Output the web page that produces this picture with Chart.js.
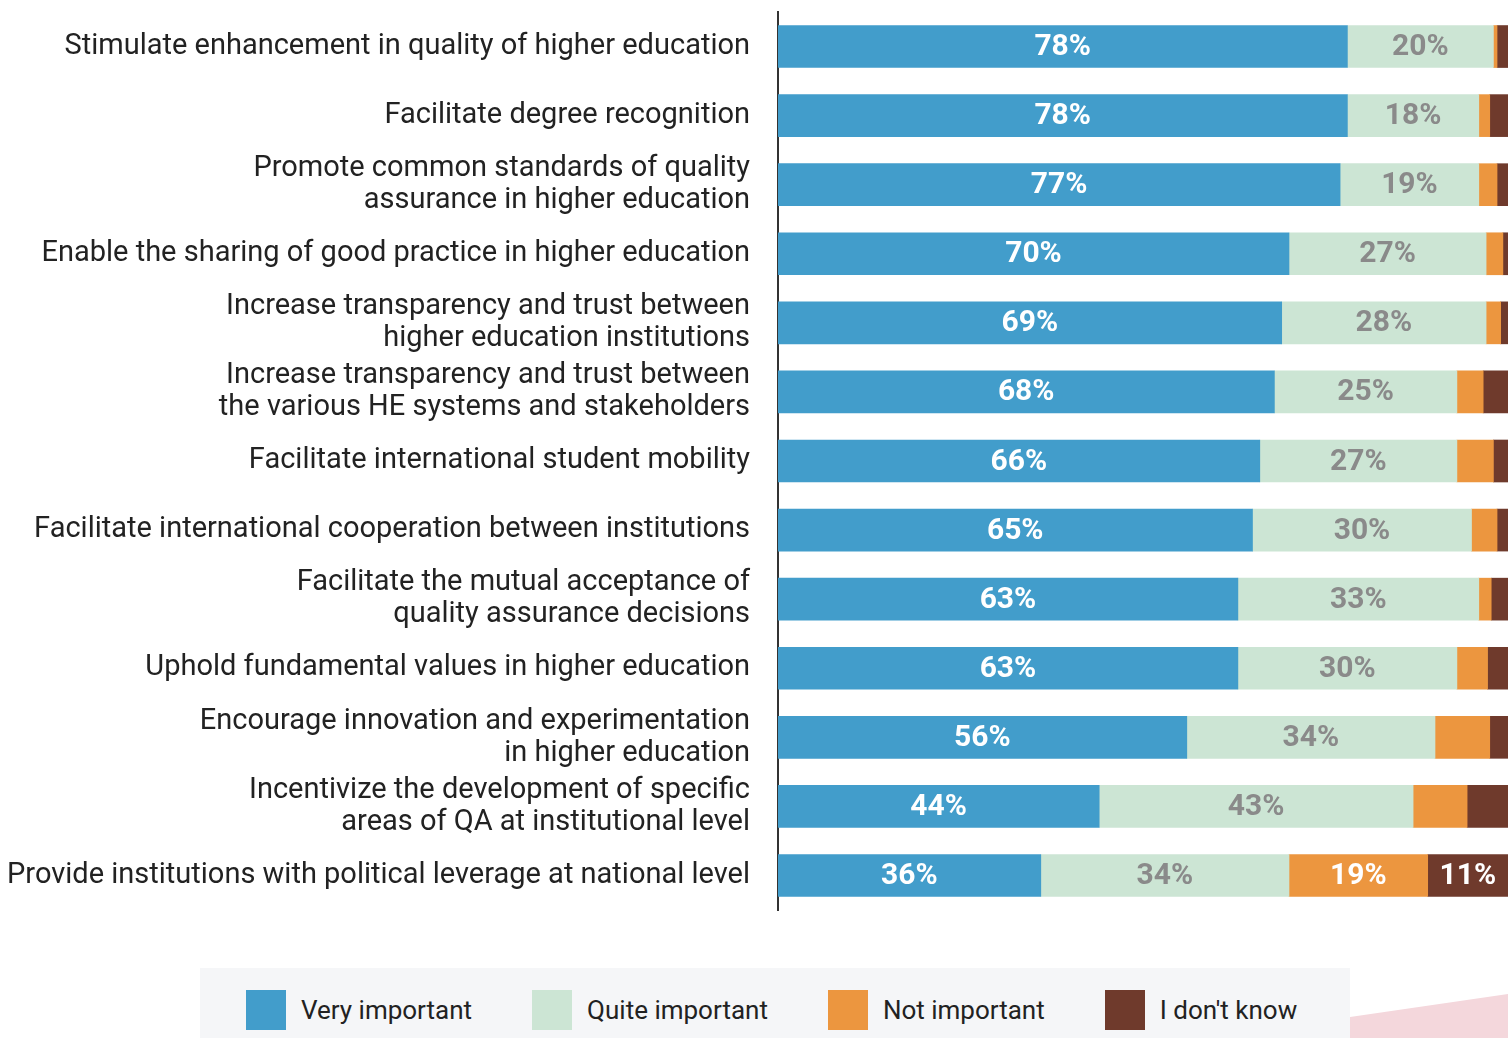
<!DOCTYPE html>
<html lang="en">

<head>
    <meta charset="UTF-8">
    <title>Importance of QA objectives</title>
    <script src="https://cdn.jsdelivr.net/npm/chart.js@4.4.1/dist/chart.umd.min.js"></script>
    <style>
        body {
            margin: 0;
            background: #fff;
            overflow: hidden;
        }

        #palco {
            position: relative;
            width: 1508px;
            height: 1038px;
        }

        #faixa_legenda {
            position: absolute;
            left: 200px;
            top: 968px;
            width: 1150px;
            height: 70px;
            background: #f5f6f8;
        }

        #enfeite {
            position: absolute;
            left: 1350px;
            top: 994px;
            width: 158px;
            height: 44px;
            background: #f4d7dc;
            clip-path: polygon(0 52%, 100% 0, 100% 100%, 0 100%);
        }

        #legenda {
            position: absolute;
            left: 246px;
            top: 990px;
            display: flex;
            font-family: Roboto, sans-serif;
            font-size: 26px;
            color: #222;
        }

        .item {
            display: flex;
            align-items: center;
            height: 40px;
            margin-right: 60px;
        }

        .caixa {
            width: 40px;
            height: 40px;
            margin-right: 15px;
        }

        canvas {
            position: absolute;
            left: 0;
            top: 0;
        }
    </style>
</head>

<body>
    <div id="palco">
        <div id="faixa_legenda"></div>
        <div id="enfeite"></div>
        <div id="legenda"></div>
        <canvas id="grafico" width="1508" height="1038"></canvas>
    </div>

    <script>
        const categorias = [
            'Stimulate enhancement in quality of higher education',
            'Facilitate degree recognition',
            ['Promote common standards of quality', 'assurance in higher education'],
            'Enable the sharing of good practice in higher education',
            ['Increase transparency and trust between', 'higher education institutions'],
            ['Increase transparency and trust between', 'the various HE systems and stakeholders'],
            'Facilitate international student mobility',
            'Facilitate international cooperation between institutions',
            ['Facilitate the mutual acceptance of', 'quality assurance decisions'],
            'Uphold fundamental values in higher education',
            ['Encourage innovation and experimentation', 'in higher education'],
            ['Incentivize the development of specific', 'areas of QA at institutional level'],
            'Provide institutions with political leverage at national level'
        ]

        // percentuais
        const muitoImportante = [78, 78, 77, 70, 69, 68, 66, 65, 63, 63, 56, 44, 36]
        const bastanteImportante = [20, 18, 19, 27, 28, 25, 27, 30, 33, 30, 34, 43, 34]
        const naoImportante = [0.5, 1.5, 2.5, 2.3, 2, 3.6, 5, 3.5, 1.7, 4.2, 7.5, 7.4, 19]
        const naoSei = [1.5, 2.5, 1.5, 0.7, 1, 3.4, 2, 1.5, 2.3, 2.8, 2.5, 5.6, 11]

        const nomesSeries = ['Very important', 'Quite important', 'Not important', "I don't know"]
        const cores = ['#429dcb', '#cce5d4', '#ec963f', '#6f3a2c']
        const coresTexto = ['#ffffff', '#8a8a8a', '#ffffff', '#ffffff']

        // escreve o % no meio de cada pedaço (só se for >= 10)
        const rotulosBarras = {
            id: 'rotulosBarras',
            afterDatasetsDraw(chart) {
                const ctx = chart.ctx
                ctx.save()
                ctx.font = 'bold 30px Roboto, sans-serif'
                ctx.textAlign = 'center'
                ctx.textBaseline = 'middle'
                chart.data.datasets.forEach((ds, i) => {
                    const meta = chart.getDatasetMeta(i)
                    meta.data.forEach((barra, j) => {
                        const v = ds.data[j]
                        if (v < 10) return
                        ctx.fillStyle = coresTexto[i]
                        ctx.fillText(Math.round(v) + '%', (barra.x + barra.base) / 2, barra.y + 1)
                    })
                })
                ctx.restore()
            }
        }

        const series = [muitoImportante, bastanteImportante, naoImportante, naoSei]

        const grafico = new Chart(document.getElementById('grafico'), {
            type: 'bar',
            data: {
                labels: categorias,
                datasets: series.map((valores, i) => ({
                    label: nomesSeries[i],
                    data: valores,
                    backgroundColor: cores[i],
                    borderWidth: 0,
                    barThickness: 42
                }))
            },
            options: {
                indexAxis: 'y',
                responsive: false,
                animation: false,
                layout: {
                    padding: { top: 12, bottom: 128, left: 0, right: 0 }
                },
                plugins: {
                    legend: { display: false },
                    tooltip: { enabled: false }
                },
                scales: {
                    x: {
                        display: false,
                        stacked: true,
                        min: 0,
                        max: 100
                    },
                    y: {
                        stacked: true,
                        grid: { display: false, drawTicks: false },
                        border: { display: true, color: '#333', width: 2 },
                        ticks: {
                            autoSkip: false,
                            padding: 28,
                            color: '#222',
                            font: { family: 'Roboto', size: 29, lineHeight: 1.1 }
                        },
                        afterFit(escala) {
                            escala.width = 778
                            escala.paddingTop = 0
                            escala.paddingBottom = 0
                        }
                    }
                }
            },
            plugins: [rotulosBarras]
        })

        // legenda em html, montada a partir dos datasets
        const legenda = document.getElementById('legenda')
        grafico.data.datasets.forEach(ds => {
            const item = document.createElement('div')
            item.className = 'item'
            item.innerHTML = `<div class="caixa" style="background:${ds.backgroundColor}"></div><span>${ds.label}</span>`
            legenda.appendChild(item)
        })
    </script>
</body>

</html>
